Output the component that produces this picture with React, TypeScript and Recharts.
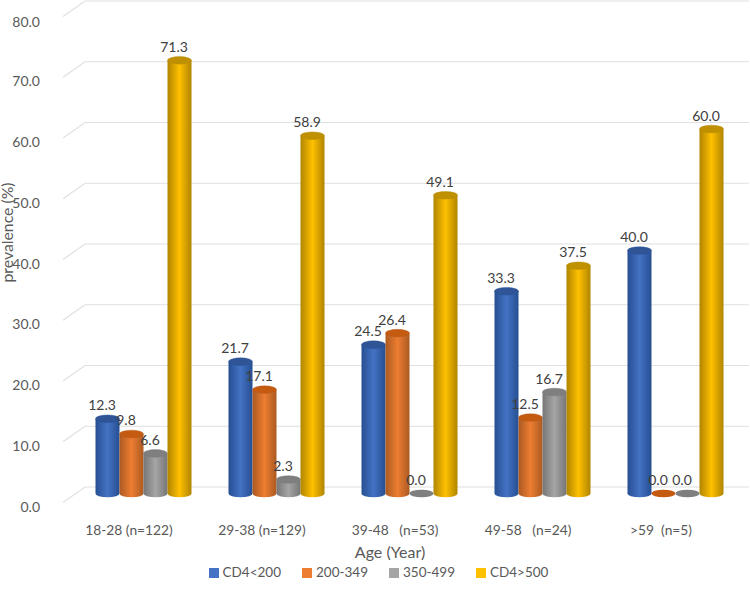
import { BarChart, Bar, XAxis, YAxis, CartesianGrid, Legend, LabelList, Label } from 'recharts';

const ageGroups = ['18-28 (n=122)', '29-38 (n=129)', '39-48   (n=53)', '49-58   (n=24)', '>59  (n=5)'];
const cd4Under200 = [12.3, 21.7, 24.5, 33.3, 40.0];
const cd4From200 = [9.8, 17.1, 26.4, 12.5, 0.0];
const cd4From350 = [6.6, 2.3, 0.0, 16.7, 0.0];
const cd4Over500 = [71.3, 58.9, 49.1, 37.5, 60.0];
const yTicks = [0, 10, 20, 30, 40, 50, 60, 70, 80];

const data = ageGroups.map((age, i) => ({
  age,
  a: cd4Under200[i],
  b: cd4From200[i],
  c: cd4From350[i],
  d: cd4Over500[i],
}));

const series = [
  { key: 'a', name: 'CD4<200', color: '#4472c4', edge: '#264f92', top: '#2f5597' },
  { key: 'b', name: '200-349', color: '#ed7d31', edge: '#ab5a22', top: '#c55a11' },
  { key: 'c', name: '350-499', color: '#a5a5a5', edge: '#767676', top: '#7f7f7f' },
  { key: 'd', name: 'CD4>500', color: '#ffc000', edge: '#b08500', top: '#bf9000' },
];

const font = 'Lato, "Open Sans", sans-serif';

const Cylinder = (props: any) => {
  const { x, y, width, height, id, top, edge } = props;
  const rx = width / 2;
  const ry = 3.8;
  const base = y + height;
  if (height < 1) {
    return <ellipse cx={x + rx} cy={base} rx={rx} ry={ry} fill={top} />;
  }
  const body = `M${x},${y} L${x},${base} A${rx},${ry} 0 0 0 ${x + width},${base} L${x + width},${y} Z`;
  return (
    <g>
      <path d={body} fill={`url(#grad-${id})`} />
      <ellipse cx={x + rx} cy={y} rx={rx} ry={ry} fill={top} stroke={edge} strokeWidth={0.4} />
    </g>
  );
};

const BarValue = (props: any) => {
  const { x, y, width, value } = props;
  return (
    <text x={x + width / 2 - 5.5} y={y - 14} textAnchor="middle" dominantBaseline="central" fontFamily={font} fontSize={14} fill="#404040">
      {Number(value).toFixed(1)}
    </text>
  );
};

const AgeTick = (props: any) => {
  const { x, y, payload } = props;
  return (
    <text x={x - 14} y={y + 28} textAnchor="middle" dominantBaseline="central" fontFamily={font} fontSize={13.8} fill="#595959" style={{ whiteSpace: 'pre' }}>
      {payload.value}
    </text>
  );
};

const ValueTick = (props: any) => {
  const { x, y, payload } = props;
  return (
    <text x={x - 28.5} y={y + 12.5} textAnchor="end" dominantBaseline="central" fontFamily={font} fontSize={14} fill="#595959">
      {Number(payload.value).toFixed(1)}
    </text>
  );
};

// back wall line plus the short diagonal on the side wall
const WallLine = (props: any) => {
  const { y1 } = props;
  const back = y1 - 6.5;
  return (
    <path d={`M63,${back + 15.5} L85,${back} L749,${back}`} fill="none" stroke="#e0e0e0" strokeWidth={1.2} />
  );
};

export default function App() {
  return (
    <div style={{ position: 'absolute', left: 0, top: 0, width: 750, height: 604, background: '#fff' }}>
      <BarChart
        width={750}
        height={604}
        data={data}
        barSize={24}
        barGap={0}
        margin={{ top: 7.5, right: 8.5, bottom: 26.5, left: 0 }}
      >
        <defs>
          {series.map((s) => (
            <linearGradient key={s.key} id={`grad-${s.key}`} x1="0" y1="0" x2="1" y2="0">
              <stop offset="0%" stopColor={s.edge} />
              <stop offset="50%" stopColor={s.color} />
              <stop offset="100%" stopColor={s.edge} />
            </linearGradient>
          ))}
        </defs>
        <CartesianGrid vertical={false} horizontal={(p: any) => <WallLine key={p.key} {...p} />} syncWithTicks />
        <XAxis dataKey="age" axisLine={false} tickLine={false} interval={0} height={60} tick={<AgeTick />}>
          <Label value="Age (Year)" position="insideTop" dx={-19} dy={48.5} fontFamily={font} fontSize={16} fill="#595959" />
        </XAxis>
        <YAxis width={76.5} domain={[0, 80]} ticks={yTicks} axisLine={false} tickLine={false} tick={<ValueTick />}>
          <Label value="prevalence (%)" angle={-90} position="center" dx={-30.5} dy={-18} fontFamily={font} fontSize={15.8} fill="#595959" />
        </YAxis>
        <Legend
          height={24}
          iconType="square"
          iconSize={10}
          itemSorter={null}
          formatter={(value: string) => <span style={{ color: '#595959', fontFamily: font, fontSize: 13.5, marginRight: 11 }}>{value}</span>}
          wrapperStyle={{ left: 14, width: 750, top: 563, bottom: 'auto' }}
        />
        {series.map((s) => (
          <Bar
            key={s.key}
            dataKey={s.key}
            name={s.name}
            fill={s.color}
            isAnimationActive={false}
            minPointSize={0}
            shape={(p: any) => <Cylinder {...p} id={s.key} top={s.top} edge={s.edge} />}
          >
            <LabelList dataKey={s.key} content={<BarValue />} />
          </Bar>
        ))}
      </BarChart>
    </div>
  );
}
